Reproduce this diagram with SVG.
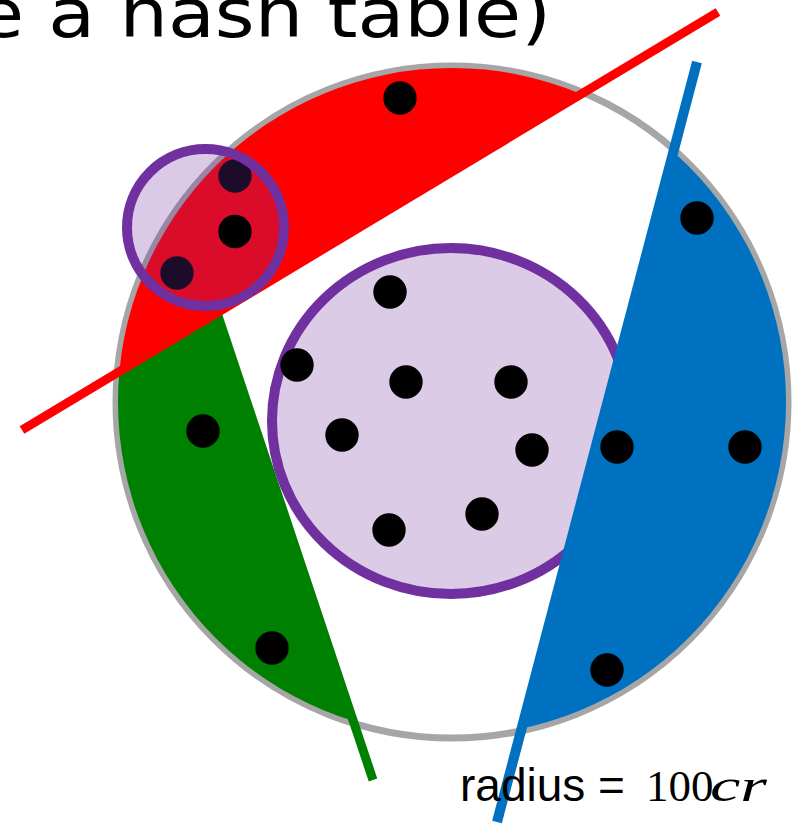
<svg xmlns="http://www.w3.org/2000/svg" width="792" height="825" viewBox="0 0 792 825">
<style>
.dot{fill:#000}
.purple{stroke:#7030A0;stroke-width:10}
</style>
<defs>
<clipPath id="disk"><circle cx="452" cy="402" r="334"/></clipPath>
</defs>
<rect width="792" height="825" fill="#fff"/>
<g id="title"><text x="-23" y="37" font-family="DejaVu Sans, sans-serif" font-size="68" textLength="574" lengthAdjust="spacingAndGlyphs" fill="#000">e a hash table)</text></g>
<g id="outer-circle"><circle cx="452" cy="402" r="336" fill="none" stroke="#A6A6A6" stroke-width="7"/></g>
<g id="regions" clip-path="url(#disk)">
<polygon id="red-region" points="-100,503.3 900,-97.3 -100,-200" fill="#FF0000"/>
<polygon id="green-region" points="215.9,313.6 -100,503.3 -100,900 413.5,900" fill="#008000"/>
</g>
<g id="connectors">
<line x1="216" y1="310" x2="373" y2="780" stroke="#008000" stroke-width="9"/>
<line x1="22" y1="430" x2="718" y2="12" stroke="#FF0000" stroke-width="9"/>
</g>
<g id="inner-circle"><ellipse cx="451" cy="421" rx="179" ry="173" fill="#DBCBE7" class="purple"/></g>
<g id="blue-part">
<polygon points="739.6,-100 476.5,900 900,900 900,-100" fill="#0070C0" clip-path="url(#disk)"/>
<line x1="697" y1="62" x2="497" y2="822" stroke="#0070C0" stroke-width="10"/>
</g>
<g id="points">
<circle class="dot" cx="400" cy="98" r="16.7"/>
<circle class="dot" cx="235" cy="176" r="16.7"/>
<circle class="dot" cx="177" cy="273" r="16.7"/>
<circle class="dot" cx="697" cy="218" r="16.7"/>
<circle class="dot" cx="390" cy="292" r="16.7"/>
<circle class="dot" cx="297" cy="365" r="16.7"/>
<circle class="dot" cx="406" cy="382" r="16.7"/>
<circle class="dot" cx="511" cy="382" r="16.7"/>
<circle class="dot" cx="342" cy="435" r="16.7"/>
<circle class="dot" cx="532" cy="450" r="16.7"/>
<circle class="dot" cx="617" cy="447" r="16.7"/>
<circle class="dot" cx="745" cy="447" r="16.7"/>
<circle class="dot" cx="203" cy="431" r="16.7"/>
<circle class="dot" cx="389" cy="530" r="16.7"/>
<circle class="dot" cx="482" cy="514" r="16.7"/>
<circle class="dot" cx="272" cy="648" r="16.7"/>
<circle class="dot" cx="607" cy="670" r="16.7"/>
</g>
<g id="small-circle"><circle cx="205.5" cy="227.5" r="78.5" fill="#7030A0" fill-opacity="0.255" class="purple"/></g>
<g id="top-point"><circle class="dot" cx="235" cy="231.5" r="16.7"/></g>
<g id="label">
<text x="460" y="801" font-family="Liberation Sans, Arial, sans-serif" font-size="46" fill="#000">radius =</text>
<text x="646" y="801" font-family="Liberation Serif, Times New Roman, serif" font-size="45" fill="#000">100</text>
<text x="710" y="801" font-family="Liberation Serif, Times New Roman, serif" font-style="italic" font-size="46" textLength="57" lengthAdjust="spacingAndGlyphs" fill="#000">cr</text>
</g>
</svg>
